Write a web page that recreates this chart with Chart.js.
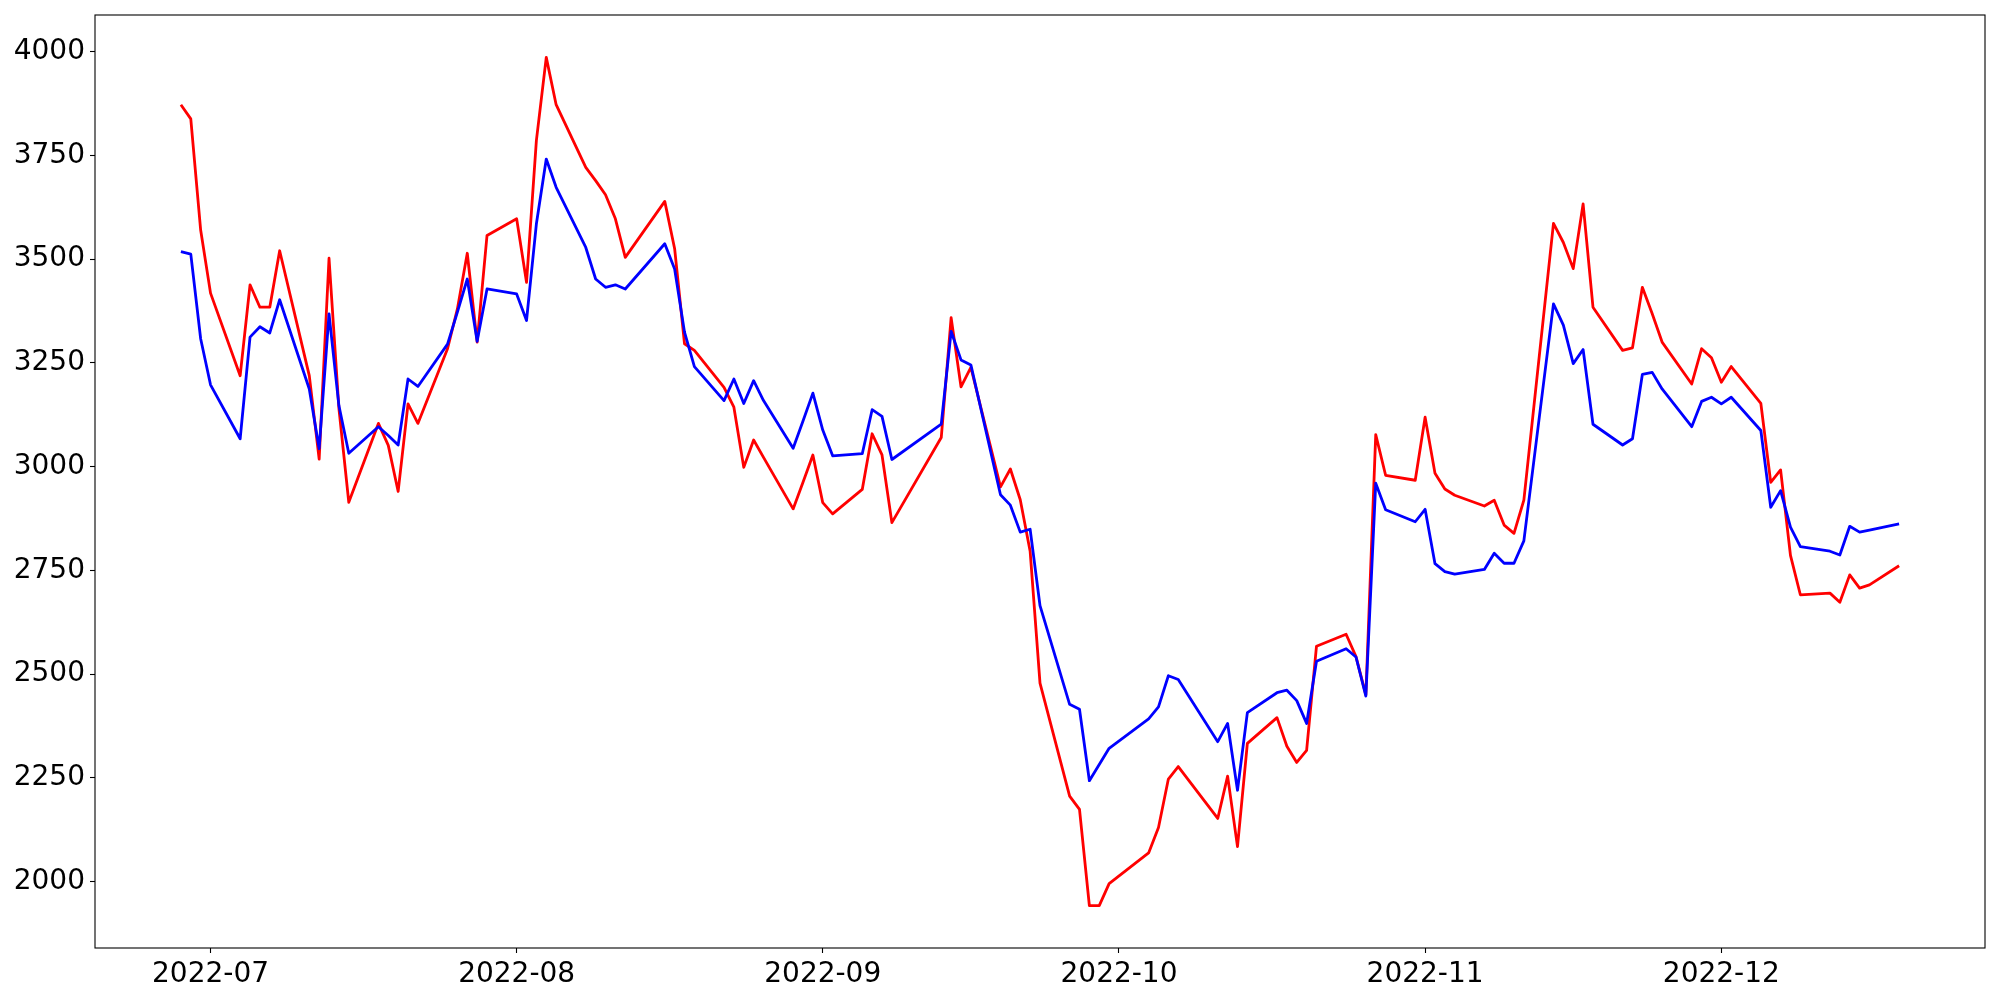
<!DOCTYPE html>
<html>
<head>
<meta charset="utf-8">
<script src="https://cdn.jsdelivr.net/npm/chart.js@4.4.1/dist/chart.umd.min.js"></script>
<style>
  html, body { margin: 0; padding: 0; background: #fff; }
  #wrap { width: 2000px; height: 1000px; }
</style>
</head>
<body>
<div id="wrap"><canvas id="chart" width="2000" height="1000"></canvas></div>
<script>
// trading days (weekdays, a few holidays missing)
const dates = [
  '2022-06-28', '2022-06-29', '2022-06-30', '2022-07-01',
  '2022-07-04', '2022-07-05', '2022-07-06', '2022-07-07', '2022-07-08',
  '2022-07-11', '2022-07-12', '2022-07-13', '2022-07-14', '2022-07-15',
  '2022-07-18', '2022-07-19', '2022-07-20', '2022-07-21', '2022-07-22',
  '2022-07-25', '2022-07-26', '2022-07-27', '2022-07-28', '2022-07-29',
  '2022-08-01', '2022-08-02', '2022-08-03', '2022-08-04', '2022-08-05',
  '2022-08-08', '2022-08-09', '2022-08-10', '2022-08-11', '2022-08-12',
  '2022-08-16', '2022-08-17', '2022-08-18', '2022-08-19',
  '2022-08-22', '2022-08-23', '2022-08-24', '2022-08-25', '2022-08-26',
  '2022-08-29', '2022-08-30', '2022-08-31', '2022-09-01', '2022-09-02',
  '2022-09-05', '2022-09-06', '2022-09-07', '2022-09-08',
  '2022-09-13', '2022-09-14', '2022-09-15', '2022-09-16',
  '2022-09-19', '2022-09-20', '2022-09-21', '2022-09-22', '2022-09-23',
  '2022-09-26', '2022-09-27', '2022-09-28', '2022-09-29', '2022-09-30',
  '2022-10-04', '2022-10-05', '2022-10-06', '2022-10-07',
  '2022-10-11', '2022-10-12', '2022-10-13', '2022-10-14',
  '2022-10-17', '2022-10-18', '2022-10-19', '2022-10-20', '2022-10-21',
  '2022-10-24', '2022-10-25', '2022-10-26', '2022-10-27', '2022-10-28',
  '2022-10-31', '2022-11-01', '2022-11-02', '2022-11-03', '2022-11-04',
  '2022-11-07', '2022-11-08', '2022-11-09', '2022-11-10', '2022-11-11',
  '2022-11-14', '2022-11-15', '2022-11-16', '2022-11-17', '2022-11-18',
  '2022-11-21', '2022-11-22', '2022-11-23', '2022-11-24', '2022-11-25',
  '2022-11-28', '2022-11-29', '2022-11-30', '2022-12-01', '2022-12-02',
  '2022-12-05', '2022-12-06', '2022-12-07', '2022-12-08', '2022-12-09',
  '2022-12-12', '2022-12-13', '2022-12-14', '2022-12-15', '2022-12-16',
  '2022-12-19'
];

const redValues = [
  3872, 3838, 3570, 3418,
  3219, 3438, 3384, 3384, 3520,
  3219, 3018, 3502, 3140, 2914,
  3104, 3051, 2940, 3151, 3104,
  3284, 3380, 3514, 3300, 3557,
  3597, 3444, 3786, 3986, 3872,
  3721, 3689, 3655, 3597, 3504,
  3639, 3525, 3296, 3280,
  3191, 3143, 2998, 3064, 3022,
  2898, 2962, 3028, 2913, 2886,
  2945, 3079, 3028, 2865,
  3070, 3359, 3192, 3239,
  2951, 2994, 2920, 2796, 2478,
  2206, 2174, 1942, 1942, 1995,
  2069, 2130, 2247, 2277,
  2152, 2254, 2084, 2333,
  2395, 2326, 2287, 2316, 2567,
  2596, 2542, 2450, 3077, 2979,
  2967, 3119, 2984, 2946, 2931,
  2905, 2919, 2859, 2839, 2919,
  3586, 3540, 3477, 3633, 3384,
  3280, 3286, 3432, 3368, 3300,
  3199, 3284, 3262, 3203, 3241,
  3152, 2962, 2992, 2786, 2691,
  2695, 2673, 2739, 2707, 2715,
  2761
];

const blueValues = [
  3518, 3512, 3308, 3197,
  3067, 3312, 3337, 3322, 3402,
  3187, 3043, 3368, 3147, 3032,
  3096, 3075, 3052, 3211, 3193,
  3295, 3372, 3452, 3302, 3428,
  3416, 3352, 3585, 3741, 3673,
  3528, 3452, 3432, 3438, 3428,
  3537, 3476, 3324, 3241,
  3159, 3211, 3152, 3207, 3159,
  3044, 3110, 3177, 3088, 3026,
  3031, 3137, 3121, 3017,
  3102, 3326, 3257, 3245,
  2932, 2907, 2842, 2849, 2665,
  2427, 2415, 2243, 2282, 2321,
  2392, 2421, 2496, 2487,
  2337, 2381, 2220, 2407,
  2455, 2461, 2436, 2381, 2531,
  2561, 2541, 2447, 2960, 2896,
  2867, 2897, 2766, 2747, 2741,
  2752, 2791, 2767, 2767, 2821,
  3392, 3341, 3248, 3282, 3102,
  3052, 3067, 3222, 3227, 3187,
  3096, 3157, 3167, 3151, 3167,
  3087, 2902, 2942, 2854, 2807,
  2796, 2787, 2856, 2842, 2847,
  2862
];

const monthTicks = ['2022-07-01', '2022-08-01', '2022-09-01', '2022-10-01', '2022-11-01', '2022-12-01'];
const yTicks = [2000, 2250, 2500, 2750, 3000, 3250, 3500, 3750, 4000];

// date string -> day number (so a plain linear axis works without a date adapter)
function dayNum(s) {
  const p = s.split('-');
  return Date.UTC(+p[0], +p[1] - 1, +p[2]) / 86400000;
}

function dayLabel(v) {
  return new Date(Math.round(v) * 86400000).toISOString().slice(0, 7);
}

const xs = dates.map(dayNum);
const allVals = redValues.concat(blueValues);

// 5% margins like the default autoscale
const xSpan = xs[xs.length - 1] - xs[0];
const yLo = Math.min.apply(null, allVals);
const yHi = Math.max.apply(null, allVals);
const ySpan = yHi - yLo;

const tickFont = { family: 'DejaVu Sans', size: 28 };

const framePlugin = {
  id: 'frame',
  afterDraw(chart) {
    const a = chart.chartArea;
    const ctx = chart.ctx;
    ctx.save();
    ctx.strokeStyle = '#000';
    ctx.lineWidth = 1.1;
    ctx.strokeRect(a.left, a.top, a.right - a.left, a.bottom - a.top);
    ctx.restore();
  }
};

new Chart(document.getElementById('chart').getContext('2d'), {
  type: 'line',
  data: {
    datasets: [
      {
        label: 'red',
        data: xs.map((x, i) => ({ x: x, y: redValues[i] })),
        borderColor: '#ff0000',
        borderWidth: 2.8,
        pointRadius: 0,
        tension: 0,
        fill: false,
        borderJoinStyle: 'round',
        order: 2
      },
      {
        label: 'blue',
        data: xs.map((x, i) => ({ x: x, y: blueValues[i] })),
        borderColor: '#0000ff',
        borderWidth: 2.8,
        pointRadius: 0,
        tension: 0,
        fill: false,
        borderJoinStyle: 'round',
        order: 1
      }
    ]
  },
  options: {
    responsive: false,
    animation: false,
    devicePixelRatio: 1,
    layout: { padding: { top: 15, right: 15, left: 0, bottom: 0 } },
    plugins: {
      legend: { display: false },
      tooltip: { enabled: false }
    },
    scales: {
      x: {
        type: 'linear',
        min: xs[0] - 0.05 * xSpan,
        max: xs[xs.length - 1] + 0.05 * xSpan,
        afterBuildTicks: (scale) => {
          scale.ticks = monthTicks.map(d => ({ value: dayNum(d) }));
        },
        afterFit: (scale) => {
          scale.height = 52;
          scale.paddingLeft = 0;
          scale.paddingRight = 0;
        },
        ticks: {
          color: '#000',
          font: tickFont,
          padding: 5,
          maxRotation: 0,
          autoSkip: false,
          callback: (v) => dayLabel(v)
        },
        grid: {
          drawOnChartArea: false,
          drawTicks: true,
          tickLength: 5,
          tickColor: '#000',
          tickWidth: 1.1
        },
        border: { display: false }
      },
      y: {
        type: 'linear',
        min: yLo - 0.05 * ySpan,
        max: yHi + 0.05 * ySpan,
        afterBuildTicks: (scale) => {
          scale.ticks = yTicks.map(v => ({ value: v }));
        },
        afterFit: (scale) => {
          scale.width = 95;
          scale.paddingTop = 0;
          scale.paddingBottom = 0;
        },
        ticks: {
          color: '#000',
          font: tickFont,
          padding: 5,
          autoSkip: false,
          callback: (v) => String(v)
        },
        grid: {
          drawOnChartArea: false,
          drawTicks: true,
          tickLength: 5,
          tickColor: '#000',
          tickWidth: 1.1
        },
        border: { display: false }
      }
    }
  },
  plugins: [framePlugin]
});
</script>
</body>
</html>
